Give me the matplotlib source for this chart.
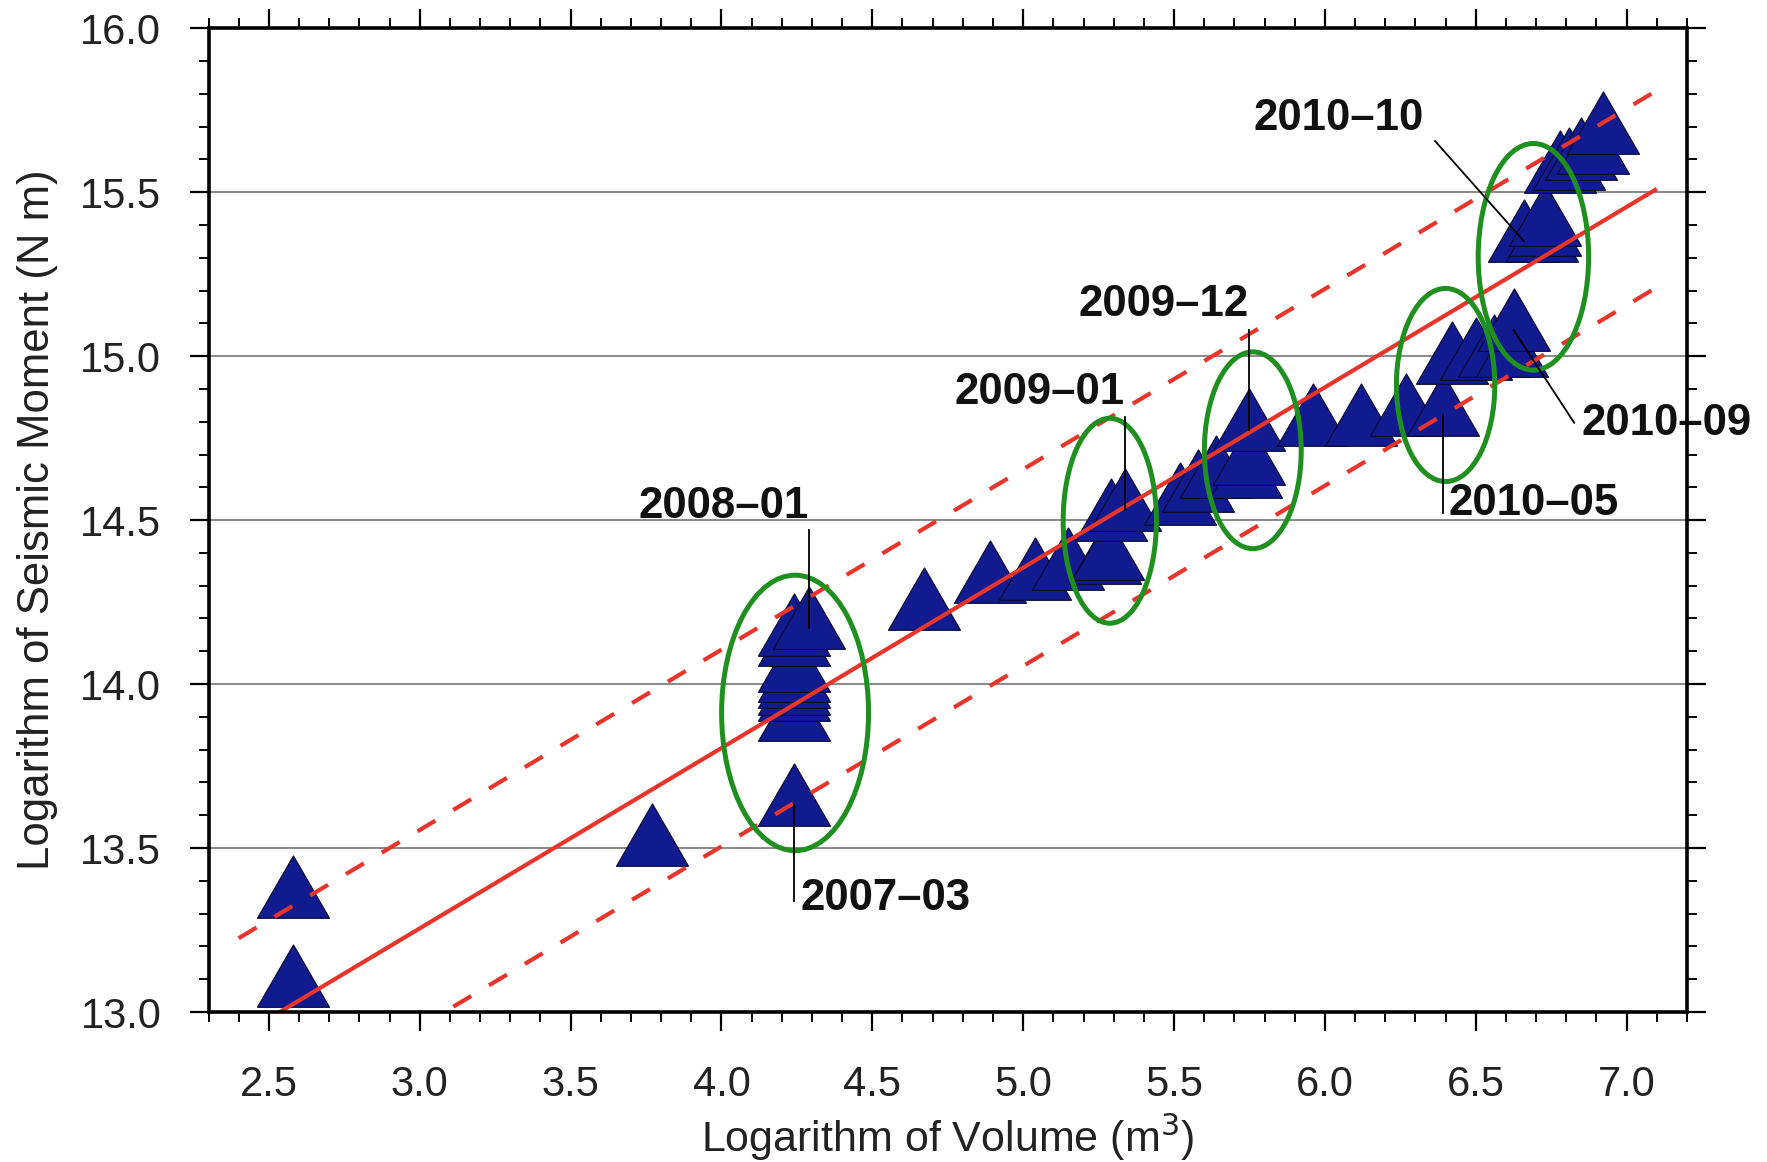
import numpy as np
import matplotlib
matplotlib.use("Agg")
import matplotlib.pyplot as plt
from matplotlib.patches import Ellipse
from matplotlib.ticker import MultipleLocator, FormatStrFormatter

plt.rcParams['font.family'] = ['Liberation Sans', 'DejaVu Sans']

# ---- data (log10 cumulative volume, log10 cumulative seismic moment) ----
log_volume = [2.58, 2.58, 3.77, 4.24, 4.24, 4.24, 4.24, 4.24, 4.24, 4.24, 4.24, 4.24,
              4.29, 4.67, 4.89, 5.04, 5.15, 5.27, 5.28, 5.29, 5.336, 5.52, 5.58, 5.64,
              5.74, 5.75, 5.747, 5.96, 6.12, 6.27, 6.392, 6.42, 6.50, 6.56, 6.62, 6.625,
              6.66, 6.72, 6.73, 6.73, 6.78, 6.81, 6.85, 6.89, 6.92]
log_moment = [13.08, 13.35, 13.51, 13.63, 13.89, 13.95, 13.97, 13.99, 14.01, 14.04, 14.12, 14.15,
              14.17, 14.23, 14.31, 14.32, 14.35, 14.37, 14.38, 14.50, 14.53, 14.55, 14.59, 14.63,
              14.63, 14.67, 14.776, 14.79, 14.79, 14.82, 14.82, 14.98, 14.99, 15.00, 15.00, 15.08,
              15.35, 15.35, 15.37, 15.40, 15.56, 15.57, 15.60, 15.62, 15.68]

# regression line and +/- band
fit_slope = 0.55
fit_intercept = 11.605
band = 0.3
fit_x = [2.4, 7.1]

# annotated months: label, point (x, y), pointer end (x, y), text anchor (x, y), alignment
ann_labels = ['2007–03', '2008–01', '2009–01', '2009–12', '2010–05', '2010–09', '2010–10']
ann_point_x = [4.24, 4.29, 5.336, 5.747, 6.392, 6.625, 6.66]
ann_point_y = [13.63, 14.17, 14.53, 14.776, 14.82, 15.08, 15.35]
ann_end_x = [4.24, 4.29, 5.336, 5.747, 6.392, 6.826, 6.365]
ann_end_y = [13.337, 14.47, 14.814, 15.08, 14.522, 14.797, 15.656]
ann_text_x = [4.262, 4.29, 5.335, 5.747, 6.408, 6.852, 6.328]
ann_text_y = [13.347, 14.54, 14.89, 15.158, 14.55, 14.794, 15.725]
ann_ha = ['left', 'right', 'right', 'right', 'left', 'left', 'right']

# highlighted groups (ellipses): centre x, centre y, width, height (data units)
ell_x = [4.244, 5.287, 5.761, 6.400, 6.691]
ell_y = [13.912, 14.498, 14.713, 14.912, 15.303]
ell_w = [0.487, 0.309, 0.321, 0.326, 0.366]
ell_h = [0.840, 0.625, 0.600, 0.589, 0.691]

x_ticks = [2.5, 3.0, 3.5, 4.0, 4.5, 5.0, 5.5, 6.0, 6.5, 7.0]
y_ticks = [13.0, 13.5, 14.0, 14.5, 15.0, 15.5, 16.0]

# ---- figure ----
W, H = 1767, 1162
fig = plt.figure(figsize=(W / 100, H / 100), dpi=100)
ax = fig.add_axes([208.5 / W, (H - 1012) / H, (1687 - 208.5) / W, (1012 - 28.2) / H])
ax.set_xlim(2.3, 7.2)
ax.set_ylim(13.0, 16.0)

# horizontal grid
for yv in y_ticks[1:-1]:
    ax.axhline(yv, color='#808080', lw=1.3, zorder=0.5)

# triangles
ax.plot(log_volume, log_moment, linestyle='none', marker=(3, 0, 0), ms=60,
        mfc='#111a8e', mec='#0a0a30', mew=0.8, zorder=1.5)

# fit lines
fx = np.array(fit_x)
fy = fit_slope * fx + fit_intercept
red = '#e8352b'
ax.plot(fx, fy, color=red, lw=3.0, zorder=1.7, solid_capstyle='butt')
ax.plot(fx, fy + band, color=red, lw=3.0, dashes=(5, 5), zorder=1.7, dash_capstyle='butt')
ax.plot(fx, fy - band, color=red, lw=3.0, dashes=(5, 5), zorder=1.7, dash_capstyle='butt')

# ellipses
for cx, cy, w, h in zip(ell_x, ell_y, ell_w, ell_h):
    ax.add_patch(Ellipse((cx, cy), w, h, fill=False, edgecolor='#1f8f1f', lw=3.6, zorder=1.8))

# pointers and labels
for lab, px, py, ex, ey, tx, ty, ha in zip(ann_labels, ann_point_x, ann_point_y, ann_end_x,
                                           ann_end_y, ann_text_x, ann_text_y, ann_ha):
    ax.plot([px, ex], [py, ey], color='black', lw=1.3, zorder=1.9, clip_on=False)
    ax.text(tx, ty, lab, ha=ha, va='center', fontsize=31.5, fontweight='bold',
            color='#111111', zorder=2.2, clip_on=False)

# axes styling
for s in ax.spines.values():
    s.set_linewidth(2.6)
    s.set_zorder(2.5)
ax.xaxis.set_major_locator(plt.FixedLocator(x_ticks))
ax.yaxis.set_major_locator(plt.FixedLocator(y_ticks))
ax.xaxis.set_minor_locator(MultipleLocator(0.1))
ax.yaxis.set_minor_locator(MultipleLocator(0.1))
ax.xaxis.set_major_formatter(FormatStrFormatter('%.1f'))
ax.yaxis.set_major_formatter(FormatStrFormatter('%.1f'))
ax.tick_params(which='both', direction='out', top=True, right=True, colors='black')
ax.tick_params(which='major', length=14, width=1.6, labelsize=30)
ax.tick_params(axis='x', which='major', pad=24)
ax.tick_params(axis='y', which='major', pad=20)
ax.tick_params(which='minor', length=7, width=1.4)
for lbl in ax.get_xticklabels() + ax.get_yticklabels():
    lbl.set_color('#222222')

ax.set_xlabel('Logarithm of Volume (m$^3$)', fontsize=31, color='#222222')
ax.set_ylabel('Logarithm of Seismic Moment (N m)', fontsize=31.5, color='#222222')
ax.xaxis.set_label_coords(0.5, -0.101)
ax.yaxis.set_label_coords(-0.102, 0.5)

fig.savefig('out.png', dpi=100)
